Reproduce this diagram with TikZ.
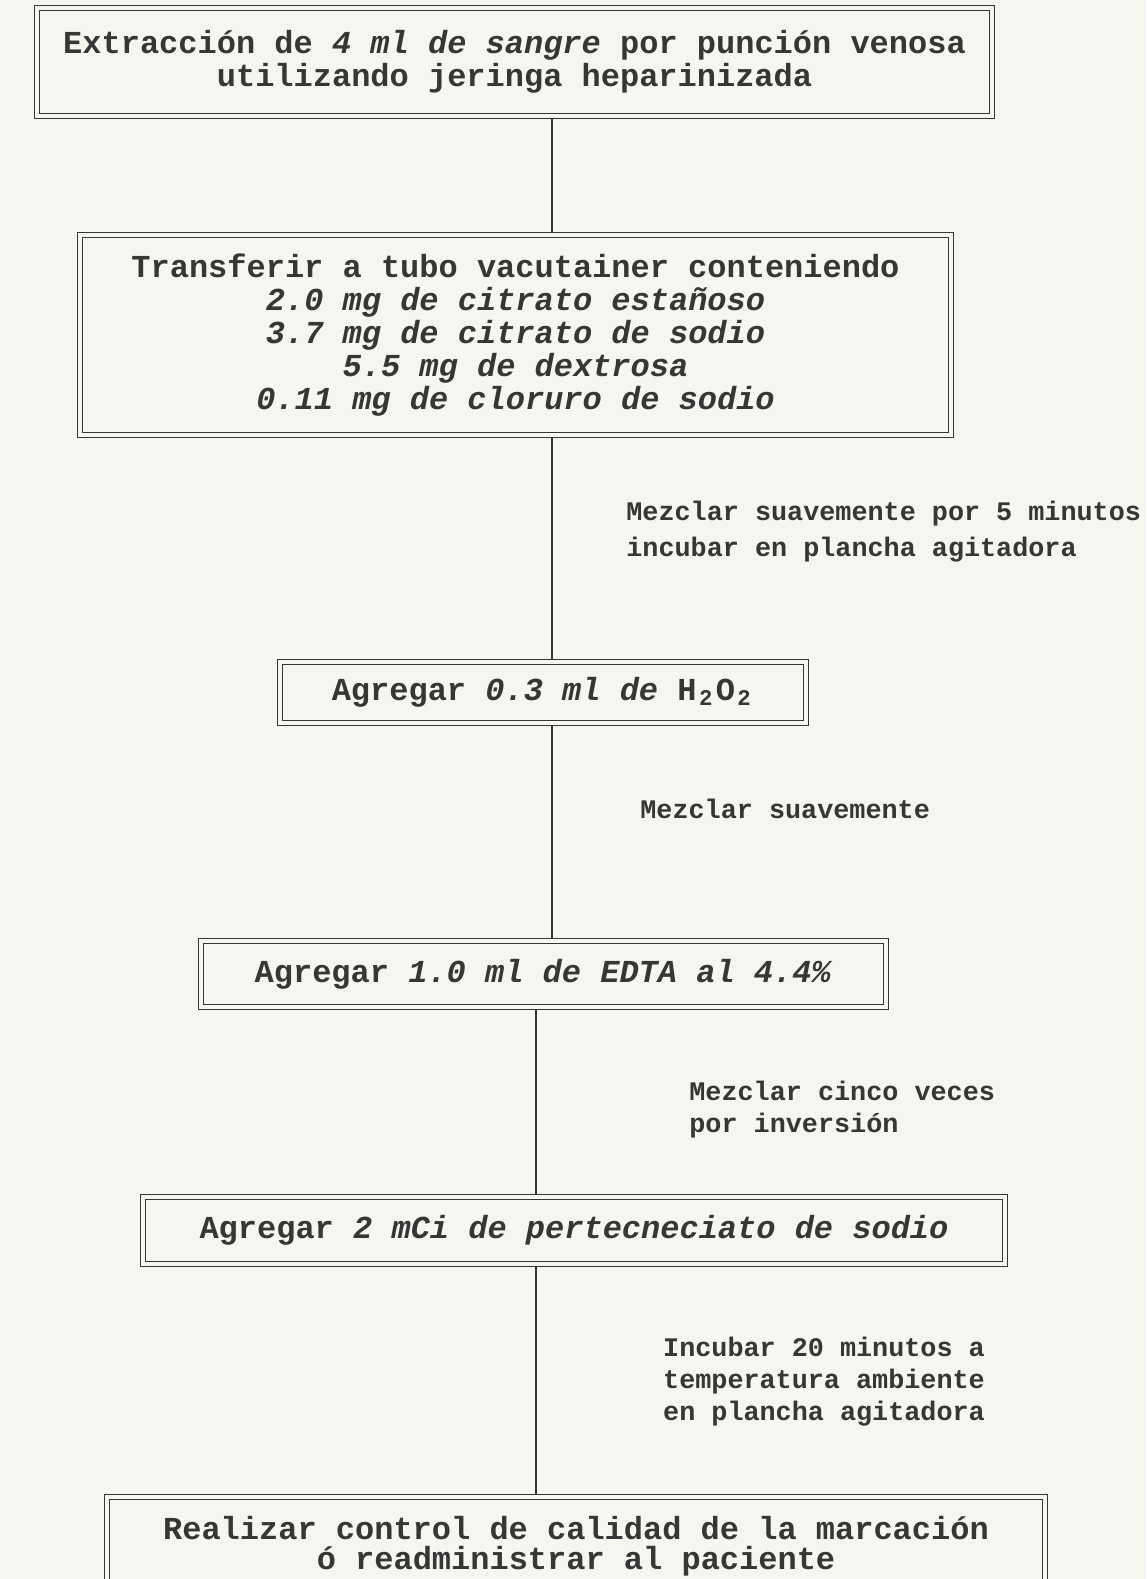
\documentclass[tikz,border=0pt]{standalone}
\usepackage{fontspec}
\setmonofont{Liberation Mono}
\usetikzlibrary{positioning}
\definecolor{paper}{RGB}{246,245,240}
\definecolor{ink}{RGB}{55,53,53}
\newcommand{\cellsub}[1]{\makebox[0.6em]{\textsubscript{#1}}}

\begin{document}
\begin{tikzpicture}[
  x=0.5pt, y=-0.5pt,
  font=\ttfamily\bfseries\fontsize{16pt}{16.5pt}\selectfont,
  text=ink,
  stepbox/.style={draw=ink,line width=0.9pt,double=paper,double distance=1.6pt,
    outer sep=1.7pt,align=center,inner sep=0pt},
  note/.style={inner sep=0pt,
    font=\ttfamily\bfseries\fontsize{13.4pt}{16pt}\selectfont},
  link/.style={draw=ink,line width=1pt}
]
\clip (0,0) rectangle (1146,1579);
\fill[paper] (0,0) rectangle (1146,1579);

% steps of the procedure
\node[stepbox,minimum width=477.5pt,minimum height=54pt] (extract) at (514.5,62)
{Extracción de \textit{4 ml de sangre} por punción venosa\\utilizando jeringa heparinizada};
\node[stepbox,minimum width=435.5pt,minimum height=100pt] (transfer) at (515.5,335)
{Transferir a tubo vacutainer conteniendo\\\textit{2.0 mg de citrato estañoso}\\
 \textit{3.7 mg de citrato de sodio}\\\textit{5.5 mg de dextrosa}\\
 \textit{0.11 mg de cloruro de sodio}};
\node[stepbox,minimum width=263pt,minimum height=30.5pt] (peroxide) at (543,692.5)
{Agregar \textit{0.3 ml de} H\cellsub{2}O\cellsub{2}};
\node[stepbox,minimum width=342.5pt,minimum height=33pt] (edta) at (543.5,974)
{Agregar \textit{1.0 ml de EDTA al 4.4\%}};
\node[stepbox,minimum width=431pt,minimum height=33.5pt] (pertec) at (574,1230.5)
{Agregar \textit{2 mCi de pertecneciato de sodio}};
\node[stepbox,minimum width=469pt,minimum height=49pt] (control) at (576,1546)
{Realizar control de calidad de la marcación\\[-1.5pt]ó readministrar al paciente};

% side notes
\node[note,anchor=west,align=left] (mixgentle) at (626,532)
{Mezclar suavemente por 5 minutos\\[2pt]incubar en plancha agitadora};
\node[note,anchor=west] (mixsoft) at (640,809) {Mezclar suavemente};
\node[note,anchor=west,align=left] (invert) at (689,1110)
{Mezclar cinco veces\\por inversión};
\node[note,align=center] (incubate) at (824,1382)
{Incubar 20 minutos a\\temperatura ambiente\\en plancha agitadora};

% vertical spine, drifts a little to the left lower down
\coordinate (spineup) at (552,0);
\coordinate (spinelow) at (536,0);
\draw[link] (extract.south -| spineup) -- (transfer.north -| spineup);
\draw[link] (transfer.south -| spineup) -- (peroxide.north -| spineup);
\draw[link] (peroxide.south -| spineup) -- (edta.north -| spineup);
\draw[link] (edta.south -| spinelow) -- (pertec.north -| spinelow);
\draw[link] (pertec.south -| spinelow) -- (control.north -| spinelow);
\end{tikzpicture}
\end{document}
